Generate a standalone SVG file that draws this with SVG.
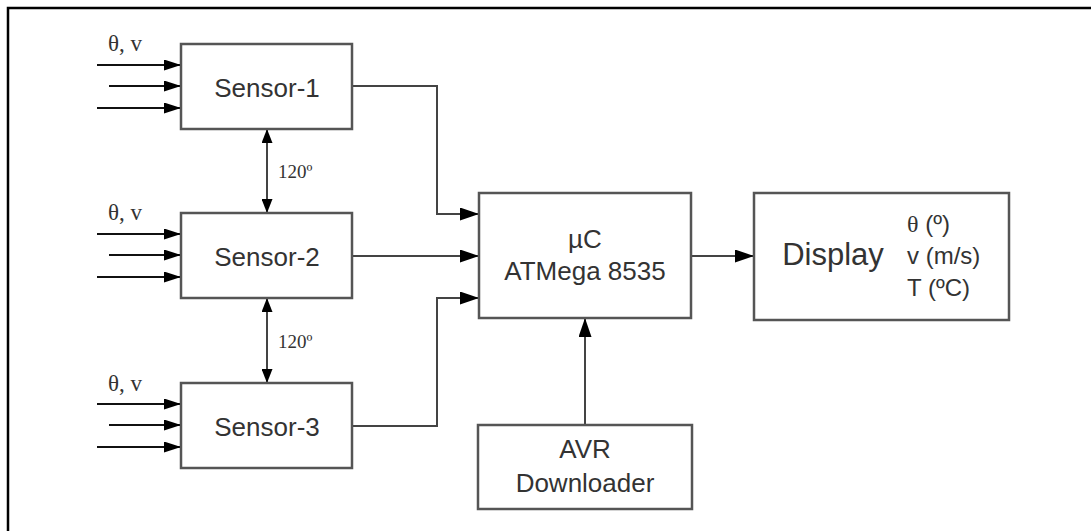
<svg xmlns="http://www.w3.org/2000/svg" width="1091" height="531" viewBox="0 0 1091 531">
<defs>
<marker id="ah" markerWidth="19" markerHeight="13" refX="19" refY="6.5" orient="auto" markerUnits="userSpaceOnUse">
<path d="M0,0 L19,6.5 L0,13 Z" fill="#000"/>
</marker>
<marker id="ahs" markerWidth="14" markerHeight="11" refX="14" refY="5.5" orient="auto-start-reverse" markerUnits="userSpaceOnUse">
<path d="M0,0 L14,5.5 L0,11 Z" fill="#000"/>
</marker>
<marker id="ahi" markerWidth="17" markerHeight="11" refX="17" refY="5.5" orient="auto" markerUnits="userSpaceOnUse">
<path d="M0,0 L17,5.5 L0,11 Z" fill="#000"/>
</marker>
</defs>
<style>
.box{fill:#fff;stroke:#555;stroke-width:2.5}
.t{font-family:"Liberation Sans",Arial,sans-serif;fill:#333;text-anchor:middle}
.s{font-family:"Liberation Serif","Times New Roman",serif;fill:#333}
.c{fill:none;stroke:#444;stroke-width:2}
.in{fill:none;stroke:#111;stroke-width:2}
</style>
<rect x="0" y="0" width="1091" height="531" fill="#fff"/>
<path d="M8,531 L8,8 L1091,8" fill="none" stroke="#000" stroke-width="2.5"/>

<g id="connectors">
<path class="c" d="M352,86 H437 V214 H479" marker-end="url(#ah)"/>
<path class="c" d="M352,256 H479" marker-end="url(#ah)"/>
<path class="c" d="M352,426 H437 V298 H479" marker-end="url(#ah)"/>
<path class="c" d="M691,256 H754" marker-end="url(#ah)"/>
<path class="c" d="M585,425 V318" marker-end="url(#ah)"/>
<path class="c" d="M267,129 V213" marker-start="url(#ahs)" marker-end="url(#ahs)"/>
<path class="c" d="M267,298 V383" marker-start="url(#ahs)" marker-end="url(#ahs)"/>
<text class="s" x="278" y="178" font-size="19">120º</text>
<text class="s" x="278" y="348" font-size="19">120º</text>
<path class="in" d="M97,65 H181" marker-end="url(#ahi)"/>
<path class="in" d="M109,86 H181" marker-end="url(#ahi)"/>
<path class="in" d="M97,108 H181" marker-end="url(#ahi)"/>
<path class="in" d="M97,234 H181" marker-end="url(#ahi)"/>
<path class="in" d="M109,255 H181" marker-end="url(#ahi)"/>
<path class="in" d="M97,277 H181" marker-end="url(#ahi)"/>
<path class="in" d="M97,404 H181" marker-end="url(#ahi)"/>
<path class="in" d="M109,425 H181" marker-end="url(#ahi)"/>
<path class="in" d="M97,447 H181" marker-end="url(#ahi)"/>
<text class="s" x="108" y="51" font-size="23">θ, v</text>
<text class="s" x="108" y="220" font-size="23">θ, v</text>
<text class="s" x="108" y="391" font-size="23">θ, v</text>
</g>

<g id="sensor1">
<rect class="box" x="181" y="44" width="171" height="85"/>
<text class="t" x="267" y="97" font-size="26">Sensor-1</text>
</g>
<g id="sensor2">
<rect class="box" x="181" y="213" width="171" height="85"/>
<text class="t" x="267" y="266" font-size="26">Sensor-2</text>
</g>
<g id="sensor3">
<rect class="box" x="181" y="383" width="171" height="85"/>
<text class="t" x="267" y="436" font-size="26">Sensor-3</text>
</g>
<g id="uc">
<rect class="box" x="479" y="193" width="212" height="125"/>
<text class="t" x="585" y="248" font-size="26">µC</text>
<text class="t" x="585" y="280" font-size="26">ATMega 8535</text>
</g>
<g id="display">
<rect class="box" x="754" y="193" width="255" height="127"/>
<text class="t" x="833" y="265" font-size="31">Display</text>
<text x="907" y="232" font-size="24" font-family="Liberation Sans,Arial,sans-serif" fill="#333"><tspan font-family="Liberation Serif,serif">θ</tspan> (º)</text>
<text x="907" y="264" font-size="24" font-family="Liberation Sans,Arial,sans-serif" fill="#333">v (m/s)</text>
<text x="907" y="296" font-size="24" font-family="Liberation Sans,Arial,sans-serif" fill="#333">T (ºC)</text>
</g>
<g id="avr">
<rect class="box" x="478" y="425" width="214" height="84"/>
<text class="t" x="585" y="458" font-size="26">AVR</text>
<text class="t" x="585" y="492" font-size="26">Downloader</text>
</g>
</svg>
